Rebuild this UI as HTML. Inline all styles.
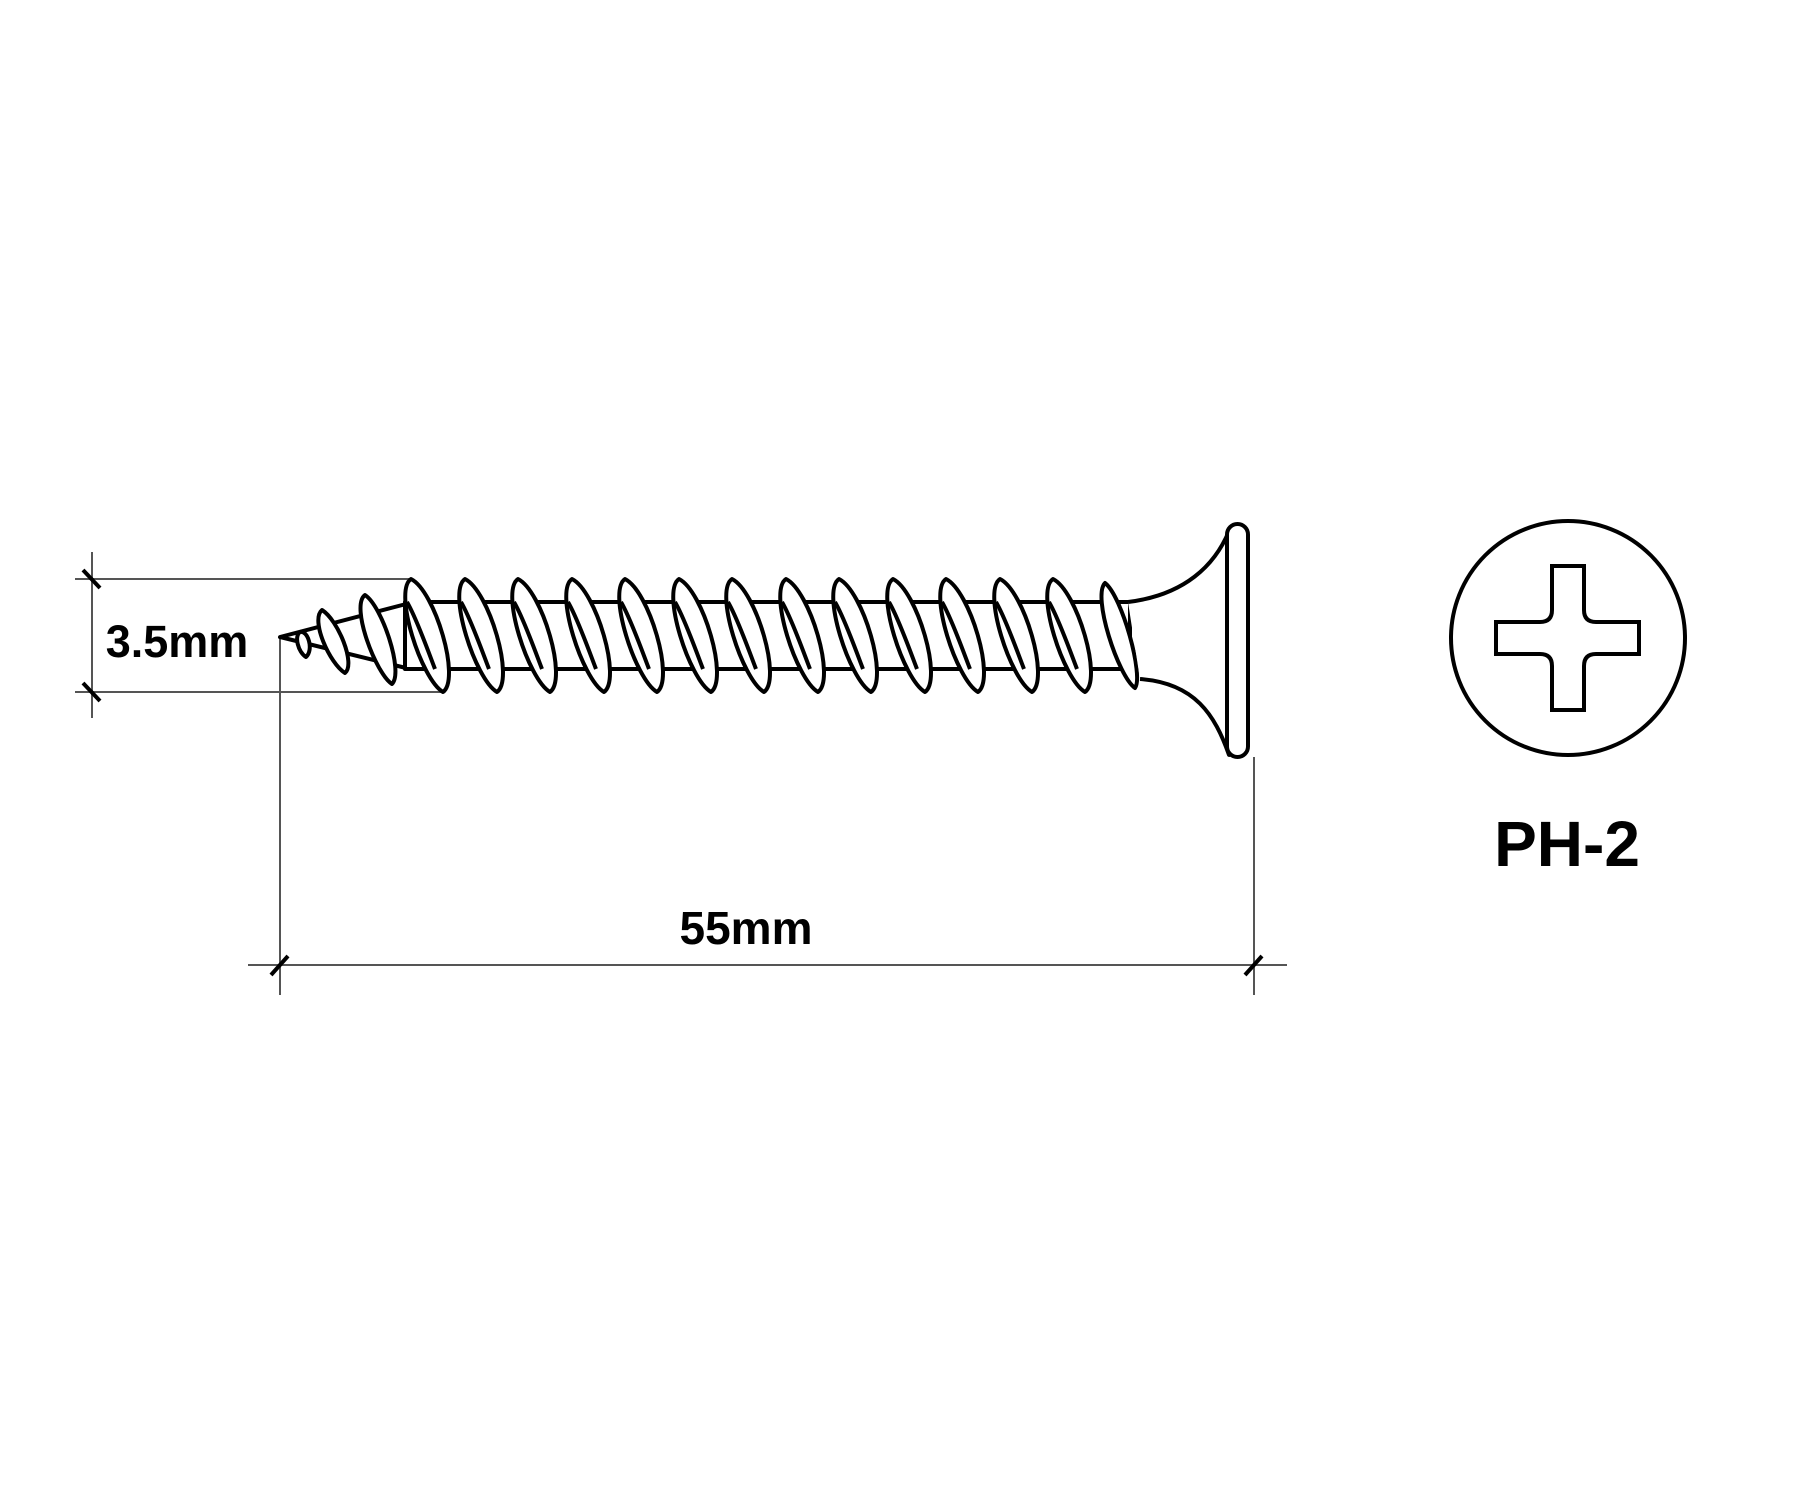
<!DOCTYPE html>
<html><head><meta charset="utf-8"><style>
html,body{margin:0;padding:0;background:#fff;}
svg{display:block;}
text{font-family:"Liberation Sans",sans-serif;font-weight:bold;fill:#000;}
</style></head><body>
<svg width="1800" height="1500" viewBox="0 0 1800 1500" xmlns="http://www.w3.org/2000/svg">
<defs>
<path id="th" d="M0,0 C24,12 50,100 32,113 C10,100 -18,12 0,0 Z"/>
<path id="bk" d="M-4,23 C6,40 20,80 24,90" fill="none"/>
</defs>
<g stroke="#555" stroke-width="2" fill="none">
<line x1="92" y1="552" x2="92" y2="718"/>
<line x1="75" y1="579" x2="413" y2="579"/>
<line x1="75" y1="692" x2="445" y2="692"/>
<line x1="280" y1="637" x2="280" y2="995"/>
<line x1="248" y1="965" x2="1287" y2="965"/>
<line x1="1254" y1="757" x2="1254" y2="995"/>
</g>
<g stroke="#000" stroke-width="4">
<line x1="83" y1="570" x2="100" y2="588"/>
<line x1="83" y1="683" x2="100" y2="701"/>
<line x1="271" y1="975" x2="288" y2="956"/>
<line x1="1245" y1="975" x2="1262" y2="956"/>
</g>
<g stroke="#000" stroke-width="4" fill="#fff" stroke-linejoin="round">
<path d="M280,637 L410,603 L410,669 Z"/>
<path d="M300,632 C308,630 314,650 306,657 C298,652 294,636 300,632 Z"/>
<path d="M322,610 C338,620 356,664 345,673 C330,664 310,620 322,610 Z"/>
<path d="M365,595 C382,606 404,672 392,684 C376,674 350,606 365,595 Z"/>
<rect x="405" y="602" width="725" height="67"/>
<g>
<use href="#th" x="411" y="579"/><use href="#bk" x="411" y="579"/>
<use href="#th" x="465" y="579"/><use href="#bk" x="465" y="579"/>
<use href="#th" x="518" y="579"/><use href="#bk" x="518" y="579"/>
<use href="#th" x="572" y="579"/><use href="#bk" x="572" y="579"/>
<use href="#th" x="625" y="579"/><use href="#bk" x="625" y="579"/>
<use href="#th" x="679" y="579"/><use href="#bk" x="679" y="579"/>
<use href="#th" x="732" y="579"/><use href="#bk" x="732" y="579"/>
<use href="#th" x="786" y="579"/><use href="#bk" x="786" y="579"/>
<use href="#th" x="839" y="579"/><use href="#bk" x="839" y="579"/>
<use href="#th" x="893" y="579"/><use href="#bk" x="893" y="579"/>
<use href="#th" x="946" y="579"/><use href="#bk" x="946" y="579"/>
<use href="#th" x="1000" y="579"/><use href="#bk" x="1000" y="579"/>
<use href="#th" x="1053" y="579"/><use href="#bk" x="1053" y="579"/>
</g>
<path d="M1105,583 C1122,596 1144,676 1135,688 C1118,676 1092,596 1105,583 Z"/>
<path d="M1128,602 C1185,595 1215,565 1229,531 L1229,755 C1215,715 1195,683 1140,679" fill="#fff"/>
<rect x="1227" y="524" width="21" height="233" rx="10.5"/>
</g>
<g stroke="#000" stroke-width="4" fill="none">
<circle cx="1568" cy="638" r="117"/>
<path d="M1552,566 L1584,566 L1584,610 Q1584,622 1596,622 L1639,622 L1639,654 L1596,654 Q1584,654 1584,666 L1584,710 L1552,710 L1552,666 Q1552,654 1540,654 L1496,654 L1496,622 L1540,622 Q1552,622 1552,610 Z"/>
</g>
<text x="177" y="657" font-size="45" text-anchor="middle">3.5mm</text>
<text x="746" y="944" font-size="46" text-anchor="middle">55mm</text>
<text x="1567" y="866" font-size="64" text-anchor="middle">PH-2</text>
</svg>
</body></html>
